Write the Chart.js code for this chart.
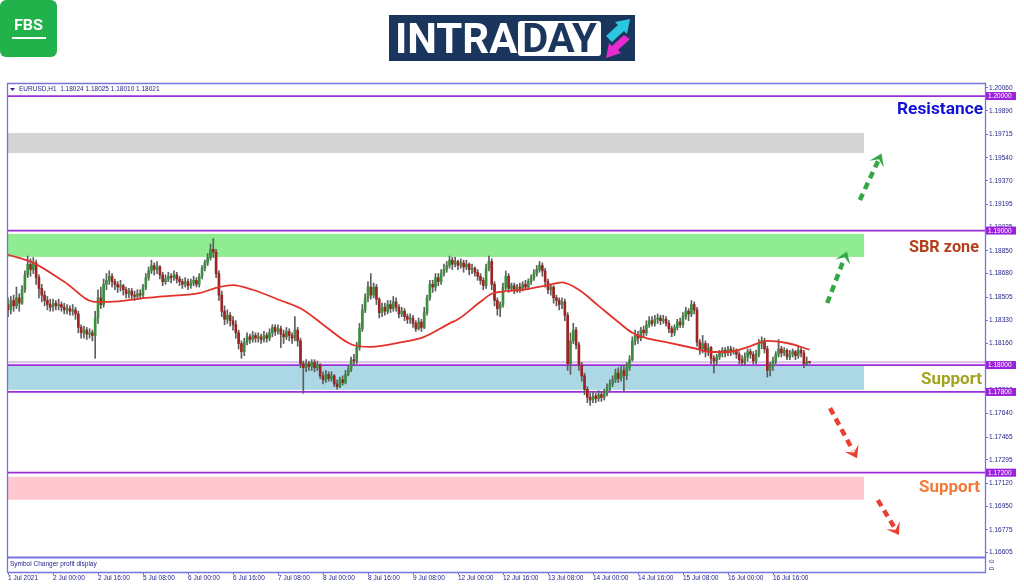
<!DOCTYPE html>
<html>
<head>
<meta charset="utf-8">
<script src="https://cdn.jsdelivr.net/npm/chart.js@4.4.1/dist/chart.umd.min.js"></script>
<style>
html,body{margin:0;padding:0;background:#fff;width:1024px;height:587px;overflow:hidden;}
#wrap{position:relative;width:1024px;height:587px;}
#c{position:absolute;left:0;top:0;}
#fbs{position:absolute;left:0;top:0;width:57px;height:57px;background:#22b24c;border-radius:6px;}
#fbs span{position:absolute;left:0;top:17px;width:57px;text-align:center;color:#fff;font:bold 14px Roboto,sans-serif;line-height:16px;transform:scaleX(1.15);}
#fbs i{position:absolute;left:12px;top:37px;width:34px;height:2px;background:#fff;}
#intra{position:absolute;left:389px;top:15px;width:246px;height:46px;background:#1b365d;}
#intra .t1{position:absolute;left:6px;top:3px;color:#fff;font:bold 42px Roboto,sans-serif;line-height:1;white-space:nowrap;}
#intra .t2{position:absolute;left:129px;top:6px;width:83px;height:35px;background:#fff;border-radius:3px;color:#1b365d;font:bold 40px Roboto,sans-serif;line-height:35px;text-align:center;}
#intra svg{position:absolute;left:214px;top:2px;}
</style>
</head>
<body>
<div id="wrap">
<canvas id="c" width="1024" height="587"></canvas>
<div id="fbs"><span>FBS</span><i></i></div>
<div id="intra"><span class="t1">INTRA</span><span class="t2">DAY</span>
<svg width="30" height="43" viewBox="0 0 30 43">
<polygon points="3,19 15,8 12,5 27,2 24,17 21,14 9,25" fill="#2cc6e3"/>
<polygon points="27,22 15,33 18,36 3,41 6,26 9,29 21,18" fill="#e52bd0"/>
</svg>
</div>
</div>
<script>
// ---- DATA ----
const xTickIdx = [0,16,32,48,64,80,96,112,128,144,160,176,192,208,224,240,256,272];
const xTickLabels = ['1 Jul 2021','2 Jul 00:00','2 Jul 16:00','5 Jul 08:00','6 Jul 00:00','6 Jul 16:00','7 Jul 08:00','8 Jul 00:00','8 Jul 16:00','9 Jul 08:00','12 Jul 00:00','12 Jul 16:00','13 Jul 08:00','14 Jul 00:00','14 Jul 16:00','15 Jul 08:00','16 Jul 00:00','16 Jul 16:00'];
const yTickVals = [1.20060,1.19890,1.19715,1.19540,1.19370,1.19195,1.19025,1.18850,1.18680,1.18505,1.18330,1.18160,1.17985,1.17810,1.17640,1.17465,1.17295,1.17120,1.16950,1.16775,1.16605];
const levelLines = [1.20000,1.19000,1.18000,1.17800,1.17200];
const zoneTop    = [1.19725,1.18975,1.17994,1.17170];
const zoneBottom = [1.19576,1.18804,1.17816,1.16999];
const labelTexts = ['Resistance','SBR zone','Support','Support'];
const labelPrices = [1.19866,1.18840,1.17859,1.17056];

const openP = [
1.1845,1.1841,1.1848,1.1844,1.1850,1.1846,1.1856,1.1867,1.1875,1.1871,
1.1876,1.1865,1.1857,1.1852,1.1848,1.1845,1.1843,1.1846,1.1844,1.1845,
1.1843,1.1841,1.1842,1.1840,1.1841,1.1838,1.1828,1.1824,1.1826,1.1823,
1.1824,1.1822,1.1835,1.1850,1.1845,1.1860,1.1863,1.1866,1.1862,1.1860,
1.1858,1.1859,1.1856,1.1853,1.1855,1.1852,1.1851,1.1853,1.1852,1.1858,
1.1865,1.1870,1.1874,1.1871,1.1873,1.1867,1.1862,1.1864,1.1866,1.1865,
1.1867,1.1864,1.1862,1.1860,1.1862,1.1859,1.1861,1.1863,1.1860,1.1866,
1.1872,1.1876,1.1880,1.1886,1.1884,1.1868,1.1852,1.1840,1.1834,1.1837,
1.1833,1.1830,1.1824,1.1816,1.1810,1.1817,1.1821,1.1819,1.1822,1.1820,
1.1821,1.1819,1.1822,1.1820,1.1824,1.1828,1.1825,1.1827,1.1823,1.1821,
1.1825,1.1822,1.1820,1.1826,1.1818,1.1801,1.1798,1.1801,1.1799,1.1802,
1.1798,1.1800,1.1792,1.1789,1.1793,1.1790,1.1792,1.1786,1.1784,1.1789,
1.1787,1.1793,1.1797,1.1804,1.1803,1.1813,1.1827,1.1841,1.1850,1.1858,
1.1852,1.1858,1.1849,1.1839,1.1843,1.1840,1.1845,1.1842,1.1847,1.1843,
1.1838,1.1840,1.1836,1.1834,1.1835,1.1831,1.1827,1.1832,1.1828,1.1839,
1.1850,1.1860,1.1858,1.1865,1.1862,1.1868,1.1871,1.1874,1.1878,1.1875,
1.1877,1.1874,1.1876,1.1873,1.1875,1.1871,1.1872,1.1869,1.1866,1.1863,
1.1859,1.1872,1.1877,1.1860,1.1848,1.1842,1.1845,1.1858,1.1866,1.1857,
1.1859,1.1856,1.1858,1.1857,1.1860,1.1858,1.1862,1.1865,1.1868,1.1871,
1.1874,1.1870,1.1862,1.1856,1.1858,1.1850,1.1848,1.1845,1.1847,1.1837,
1.1801,1.1818,1.1826,1.1815,1.1800,1.1792,1.1782,1.1776,1.1774,1.1777,
1.1775,1.1778,1.1776,1.1779,1.1783,1.1786,1.1789,1.1794,1.1790,1.1796,
1.1792,1.1798,1.1804,1.1818,1.1822,1.1820,1.1826,1.1824,1.1830,1.1833,
1.1831,1.1834,1.1835,1.1833,1.1834,1.1831,1.1827,1.1824,1.1828,1.1832,
1.1830,1.1836,1.1840,1.1838,1.1845,1.1841,1.1817,1.1812,1.1816,1.1810,
1.1813,1.1805,1.1803,1.1806,1.1809,1.1811,1.1809,1.1812,1.1810,1.1811,
1.1808,1.1804,1.1802,1.1806,1.1810,1.1808,1.1803,1.1808,1.1816,1.1818,
1.1812,1.1796,1.1799,1.1803,1.1808,1.1812,1.1809,1.1811,1.1806,1.1808,
1.1810,1.1807,1.1811,1.1809,1.1801,1.18024];
const highP = [
1.1850,1.1851,1.1852,1.1858,1.1853,1.1859,1.1870,1.1881,1.1879,1.1880,
1.1878,1.1867,1.1860,1.1855,1.1851,1.1849,1.1849,1.1848,1.1849,1.1847,
1.1846,1.1845,1.1844,1.1845,1.1843,1.1840,1.1830,1.1829,1.1828,1.1827,
1.1826,1.1840,1.1856,1.1858,1.1864,1.1868,1.1870,1.1868,1.1864,1.1862,
1.1863,1.1860,1.1858,1.1857,1.1857,1.1855,1.1856,1.1856,1.1860,1.1868,
1.1873,1.1878,1.1876,1.1877,1.1874,1.1869,1.1867,1.1869,1.1868,1.1870,
1.1869,1.1866,1.1864,1.1865,1.1864,1.1864,1.1866,1.1865,1.1868,1.1874,
1.1878,1.1883,1.1890,1.1894,1.1886,1.1870,1.1855,1.1844,1.1841,1.1839,
1.1836,1.1833,1.1826,1.1818,1.1820,1.1824,1.1823,1.1825,1.1824,1.1824,
1.1823,1.1825,1.1824,1.1827,1.1830,1.1830,1.1830,1.1829,1.1826,1.1828,
1.1827,1.1824,1.1836,1.1828,1.1820,1.1803,1.1804,1.1803,1.1804,1.1804,
1.1803,1.1801,1.1795,1.1796,1.1795,1.1795,1.1793,1.1789,1.1791,1.1792,
1.1796,1.1799,1.1806,1.1808,1.1817,1.1831,1.1845,1.1853,1.1862,1.1868,
1.1861,1.1860,1.1850,1.1846,1.1846,1.1848,1.1848,1.1851,1.1850,1.1845,
1.1843,1.1842,1.1838,1.1838,1.1837,1.1833,1.1835,1.1834,1.1843,1.1852,
1.1863,1.1863,1.1868,1.1868,1.1871,1.1875,1.1877,1.1881,1.1880,1.1880,
1.1878,1.1879,1.1878,1.1878,1.1876,1.1875,1.1873,1.1871,1.1868,1.1865,
1.1875,1.1881,1.1879,1.1862,1.1850,1.1847,1.1861,1.1870,1.1868,1.1861,
1.1861,1.1860,1.1861,1.1862,1.1863,1.1864,1.1867,1.1871,1.1874,1.1877,
1.1876,1.1872,1.1864,1.1860,1.1859,1.1852,1.1850,1.1850,1.1849,1.1839,
1.1824,1.1831,1.1828,1.1817,1.1802,1.1794,1.1784,1.1779,1.1780,1.1779,
1.1781,1.1780,1.1782,1.1786,1.1789,1.1792,1.1797,1.1798,1.1799,1.1800,
1.1802,1.1807,1.1821,1.1826,1.1825,1.1828,1.1829,1.1833,1.1836,1.1836,
1.1837,1.1838,1.1837,1.1837,1.1836,1.1833,1.1829,1.1830,1.1834,1.1835,
1.1839,1.1843,1.1842,1.1848,1.1847,1.1843,1.1819,1.1822,1.1818,1.1816,
1.1814,1.1807,1.1808,1.1811,1.1813,1.1813,1.1814,1.1814,1.1813,1.1812,
1.1810,1.1807,1.1809,1.1812,1.1812,1.1810,1.1811,1.1819,1.1821,1.1820,
1.1814,1.1802,1.1806,1.1810,1.1819,1.1814,1.1813,1.1812,1.1811,1.1812,
1.1811,1.1814,1.1813,1.1811,1.1806,1.18025];
const lowP = [
1.1836,1.1838,1.1840,1.1842,1.1840,1.1845,1.1854,1.1865,1.1866,1.1868,
1.1860,1.1850,1.1847,1.1844,1.1841,1.1840,1.1840,1.1841,1.1841,1.1840,
1.1838,1.1838,1.1837,1.1837,1.1834,1.1824,1.1820,1.1820,1.1819,1.1820,
1.1818,1.1805,1.1831,1.1842,1.1843,1.1856,1.1860,1.1858,1.1856,1.1854,
1.1855,1.1852,1.1850,1.1850,1.1849,1.1848,1.1849,1.1849,1.1850,1.1856,
1.1863,1.1868,1.1867,1.1868,1.1864,1.1859,1.1860,1.1862,1.1861,1.1863,
1.1861,1.1859,1.1857,1.1858,1.1856,1.1857,1.1859,1.1858,1.1858,1.1864,
1.1870,1.1874,1.1878,1.1880,1.1865,1.1848,1.1836,1.1830,1.1831,1.1829,
1.1826,1.1820,1.1812,1.1805,1.1807,1.1815,1.1816,1.1817,1.1817,1.1817,
1.1816,1.1817,1.1817,1.1818,1.1821,1.1822,1.1823,1.1813,1.1816,1.1819,
1.1818,1.1816,1.1818,1.1814,1.1798,1.1779,1.1795,1.1796,1.1796,1.1795,
1.1796,1.1790,1.1786,1.1787,1.1788,1.1788,1.1784,1.1782,1.1783,1.1785,
1.1786,1.1792,1.1795,1.1800,1.1801,1.1811,1.1825,1.1839,1.1847,1.1849,
1.1850,1.1845,1.1835,1.1836,1.1837,1.1838,1.1839,1.1840,1.1840,1.1835,
1.1836,1.1833,1.1831,1.1831,1.1828,1.1825,1.1826,1.1825,1.1827,1.1837,
1.1848,1.1854,1.1855,1.1859,1.1860,1.1866,1.1869,1.1872,1.1871,1.1873,
1.1871,1.1872,1.1869,1.1871,1.1867,1.1868,1.1866,1.1863,1.1860,1.1856,
1.1857,1.1870,1.1856,1.1844,1.1837,1.1836,1.1843,1.1856,1.1854,1.1855,
1.1853,1.1854,1.1854,1.1855,1.1856,1.1856,1.1860,1.1863,1.1866,1.1869,
1.1866,1.1858,1.1853,1.1852,1.1846,1.1844,1.1841,1.1842,1.1833,1.1796,
1.1793,1.1816,1.1812,1.1796,1.1788,1.1778,1.1772,1.1770,1.1772,1.1772,
1.1773,1.1773,1.1774,1.1777,1.1781,1.1784,1.1787,1.1787,1.1788,1.1780,
1.1789,1.1796,1.1803,1.1815,1.1816,1.1818,1.1821,1.1822,1.1828,1.1829,
1.1829,1.1831,1.1830,1.1831,1.1829,1.1824,1.1821,1.1822,1.1826,1.1828,
1.1828,1.1834,1.1833,1.1836,1.1838,1.1814,1.1808,1.1809,1.1806,1.1807,
1.1801,1.1794,1.1800,1.1804,1.1806,1.1806,1.1807,1.1807,1.1808,1.1805,
1.1801,1.1800,1.1800,1.1803,1.1805,1.1801,1.1801,1.1806,1.1812,1.1809,
1.1791,1.1792,1.1796,1.1801,1.1806,1.1806,1.1807,1.1804,1.1804,1.1806,
1.1804,1.1805,1.1806,1.1798,1.1800,1.18010];
const closeP = [
1.1841,1.1848,1.1844,1.1850,1.1846,1.1856,1.1867,1.1875,1.1871,1.1876,
1.1865,1.1857,1.1852,1.1848,1.1845,1.1843,1.1846,1.1844,1.1845,1.1843,
1.1841,1.1842,1.1840,1.1841,1.1838,1.1828,1.1824,1.1826,1.1823,1.1824,
1.1822,1.1835,1.1850,1.1845,1.1860,1.1863,1.1866,1.1862,1.1860,1.1858,
1.1859,1.1856,1.1853,1.1855,1.1852,1.1851,1.1853,1.1852,1.1858,1.1865,
1.1870,1.1874,1.1871,1.1873,1.1867,1.1862,1.1864,1.1866,1.1865,1.1867,
1.1864,1.1862,1.1860,1.1862,1.1859,1.1861,1.1863,1.1860,1.1866,1.1872,
1.1876,1.1880,1.1886,1.1884,1.1868,1.1852,1.1840,1.1834,1.1837,1.1833,
1.1830,1.1824,1.1816,1.1810,1.1817,1.1821,1.1819,1.1822,1.1820,1.1821,
1.1819,1.1822,1.1820,1.1824,1.1828,1.1825,1.1827,1.1823,1.1821,1.1825,
1.1822,1.1820,1.1826,1.1818,1.1801,1.1798,1.1801,1.1799,1.1802,1.1798,
1.1800,1.1792,1.1789,1.1793,1.1790,1.1792,1.1786,1.1784,1.1789,1.1787,
1.1793,1.1797,1.1804,1.1803,1.1813,1.1827,1.1841,1.1850,1.1858,1.1852,
1.1858,1.1849,1.1839,1.1843,1.1840,1.1845,1.1842,1.1847,1.1843,1.1838,
1.1840,1.1836,1.1834,1.1835,1.1831,1.1827,1.1832,1.1828,1.1839,1.1850,
1.1860,1.1858,1.1865,1.1862,1.1868,1.1871,1.1874,1.1878,1.1875,1.1877,
1.1874,1.1876,1.1873,1.1875,1.1871,1.1872,1.1869,1.1866,1.1863,1.1859,
1.1872,1.1877,1.1860,1.1848,1.1842,1.1845,1.1858,1.1866,1.1857,1.1859,
1.1856,1.1858,1.1857,1.1860,1.1858,1.1862,1.1865,1.1868,1.1871,1.1874,
1.1870,1.1862,1.1856,1.1858,1.1850,1.1848,1.1845,1.1847,1.1837,1.1801,
1.1818,1.1826,1.1815,1.1800,1.1792,1.1782,1.1776,1.1774,1.1777,1.1775,
1.1778,1.1776,1.1779,1.1783,1.1786,1.1789,1.1794,1.1790,1.1796,1.1792,
1.1798,1.1804,1.1818,1.1822,1.1820,1.1826,1.1824,1.1830,1.1833,1.1831,
1.1834,1.1835,1.1833,1.1834,1.1831,1.1827,1.1824,1.1828,1.1832,1.1830,
1.1836,1.1840,1.1838,1.1845,1.1841,1.1817,1.1812,1.1816,1.1810,1.1813,
1.1805,1.1803,1.1806,1.1809,1.1811,1.1809,1.1812,1.1810,1.1811,1.1808,
1.1804,1.1802,1.1806,1.1810,1.1808,1.1803,1.1808,1.1816,1.1818,1.1812,
1.1796,1.1799,1.1803,1.1808,1.1812,1.1809,1.1811,1.1806,1.1808,1.1810,
1.1807,1.1811,1.1809,1.1801,1.18024,1.18021];
const maIdx = [0,9,20,31,36,49,55,68,75,80,87,97,105,113,122,129,140,148,157,160,168,172,183,192,197,203,210,217,222,227,234,244,250,256,263,270,277,285];
const maVal = [1.1882,1.1876,1.1862,1.1847,1.1847,1.1850,1.1851,1.18535,1.1858,1.18595,1.1856,1.1848,1.1841,1.18285,1.18155,1.18135,1.1817,1.1821,1.1831,1.1834,1.1847,1.1853,1.1856,1.18595,1.18615,1.1856,1.1844,1.1832,1.1824,1.1820,1.1817,1.18125,1.18097,1.18097,1.18134,1.1818,1.18164,1.18115];

// ---- drawing ----
const UP = '#3b8e3e', DOWN = '#9c2424', WICK = '#5e5e5e';
const FRAME = '#7474dc', AXT = '#24248a', PURPLE = '#9a2fd8';
const FONT_S = '6.5px "Liberation Sans", Arial, sans-serif';
const nBars = closeP.length;
const idx = closeP.map((_, i) => i);
const wickData = idx.map(i => ({x: i, y: [lowP[i], highP[i]]}));
const bodyData = idx.map(i => ({x: i, y: [Math.min(openP[i], closeP[i]), Math.max(openP[i], closeP[i])]}));
const bodyColors = idx.map(i => closeP[i] >= openP[i] ? UP : DOWN);
const zoneEndBar = 304.4;

function fitText(ctx, str, xRight, yBase, width, color) {
  ctx.save();
  ctx.font = 'bold 16px Roboto, "DejaVu Sans", sans-serif';
  const w = ctx.measureText(str).width;
  ctx.translate(xRight - width, yBase);
  ctx.scale(width / w, 1);
  ctx.fillStyle = color; ctx.textAlign = 'left'; ctx.textBaseline = 'alphabetic';
  ctx.fillText(str, 0, 0);
  ctx.restore();
}
function dashedArrow(ctx, x0, y0, x1, y1, color) {
  const ang = Math.atan2(y1 - y0, x1 - x0);
  const head = 14;
  const xe = x1 - Math.cos(ang) * head * 0.6, ye = y1 - Math.sin(ang) * head * 0.6;
  ctx.save();
  ctx.strokeStyle = color; ctx.lineWidth = 4.5; ctx.setLineDash([7, 5]); ctx.lineCap = 'butt';
  ctx.beginPath(); ctx.moveTo(x0, y0); ctx.lineTo(xe, ye); ctx.stroke();
  ctx.setLineDash([]);
  ctx.fillStyle = color;
  ctx.beginPath();
  ctx.moveTo(x1, y1);
  ctx.lineTo(x1 - head * Math.cos(ang - 0.6), y1 - head * Math.sin(ang - 0.6));
  ctx.lineTo(x1 - head * 0.45 * Math.cos(ang), y1 - head * 0.45 * Math.sin(ang));
  ctx.lineTo(x1 - head * Math.cos(ang + 0.6), y1 - head * Math.sin(ang + 0.6));
  ctx.closePath(); ctx.fill();
  ctx.restore();
}

const overlay = {
  id: 'overlay',
  beforeDatasetsDraw(chart) {
    const {ctx, chartArea: a, scales: {x, y}} = chart;
    ctx.save();
    const zoneColors = ['#d4d4d4', '#90ec90', '#acd8e6', '#ffc8d1'];
    const zx0 = a.left + 1, zx1 = x.getPixelForValue(zoneEndBar);
    zoneTop.forEach((t, k) => {
      const y0 = y.getPixelForValue(t), y1 = y.getPixelForValue(zoneBottom[k]);
      ctx.fillStyle = zoneColors[k];
      ctx.fillRect(zx0, y0, zx1 - zx0, y1 - y0);
    });
    // bid line at last close
    const by = y.getPixelForValue(closeP[nBars - 1]);
    ctx.strokeStyle = '#dbbde6'; ctx.lineWidth = 2;
    ctx.beginPath(); ctx.moveTo(a.left, by); ctx.lineTo(a.right, by); ctx.stroke();
    ctx.strokeStyle = PURPLE; ctx.lineWidth = 1.7;
    levelLines.forEach(v => {
      const py = y.getPixelForValue(v);
      ctx.beginPath(); ctx.moveTo(a.left, py); ctx.lineTo(a.right, py); ctx.stroke();
    });
    ctx.restore();
  },
  afterDraw(chart) {
    const {ctx, chartArea: a, scales: {x, y}} = chart;
    ctx.save();
    // frame
    ctx.strokeStyle = FRAME; ctx.lineWidth = 1.3;
    ctx.beginPath();
    ctx.moveTo(a.left + 0.5, a.top); ctx.lineTo(a.left + 0.5, a.bottom + 15);
    ctx.moveTo(a.left, a.top + 0.5); ctx.lineTo(a.right + 1, a.top + 0.5);
    ctx.moveTo(a.left, a.bottom + 15.5); ctx.lineTo(a.right + 1, a.bottom + 15.5);
    ctx.moveTo(a.right + 0.5, a.top); ctx.lineTo(a.right + 0.5, a.bottom + 16);
    ctx.stroke();
    ctx.lineWidth = 2;
    ctx.beginPath(); ctx.moveTo(a.left, a.bottom + 0.5); ctx.lineTo(a.right + 1, a.bottom + 0.5); ctx.stroke();
    // x tick marks under sub-window
    ctx.lineWidth = 1;
    ctx.beginPath();
    xTickIdx.forEach(v => { const px = Math.round(x.getPixelForValue(v)) + 0.5; ctx.moveTo(px, a.bottom + 15); ctx.lineTo(px, a.bottom + 18); });
    ctx.stroke();
    // header
    ctx.fillStyle = AXT;
    ctx.beginPath(); ctx.moveTo(a.left + 3, a.top + 5); ctx.lineTo(a.left + 8, a.top + 5); ctx.lineTo(a.left + 5.5, a.top + 8); ctx.closePath(); ctx.fill();
    ctx.font = FONT_S; ctx.textBaseline = 'middle'; ctx.textAlign = 'left';
    const L = nBars - 1;
    ctx.fillText('EURUSD,H1  ' + [openP[L], highP[L], lowP[L], closeP[L]].map(v => v.toFixed(5)).join(' '), a.left + 12, a.top + 6.5);
    ctx.fillText('Symbol Changer profit display', a.left + 3, a.bottom + 7.5);
    ctx.save();
    ctx.translate(a.right + 6, a.bottom + 8); ctx.rotate(Math.PI / 2);
    ctx.textAlign = 'center'; ctx.fillText('0  0', 0, 0);
    ctx.restore();
    // price boxes on the axis
    levelLines.forEach(v => {
      const py = y.getPixelForValue(v);
      ctx.fillStyle = '#9b22dc';
      ctx.fillRect(a.right + 1, py - 4, 30, 8);
      ctx.fillStyle = '#ffffff'; ctx.textAlign = 'left';
      ctx.fillText(v.toFixed(5), a.right + 3, py + 0.5);
    });
    // arrows
    const G = '#35a846', R = '#e8402e';
    dashedArrow(ctx, x.getPixelForValue(291.3), y.getPixelForValue(1.18461), x.getPixelForValue(298.3), y.getPixelForValue(1.18845), G);
    dashedArrow(ctx, x.getPixelForValue(302.9), y.getPixelForValue(1.19227), x.getPixelForValue(310.6), y.getPixelForValue(1.19572), G);
    dashedArrow(ctx, x.getPixelForValue(292.3), y.getPixelForValue(1.17680), x.getPixelForValue(301.9), y.getPixelForValue(1.17308), R);
    dashedArrow(ctx, x.getPixelForValue(309.3), y.getPixelForValue(1.16996), x.getPixelForValue(316.8), y.getPixelForValue(1.16736), R);
    // zone labels
    const labelColors = ['#1212d6', '#b2401a', '#a3a320', '#f27a38'];
    const labelWidths = [86, 70, 61, 61];
    const labelRight = [983, 979, 982, 980];
    labelTexts.forEach((t, k) => fitText(ctx, t, labelRight[k], y.getPixelForValue(labelPrices[k]), labelWidths[k], labelColors[k]));
    ctx.restore();
  }
};

new Chart(document.getElementById('c'), {
  type: 'bar',
  data: {
    datasets: [
      {type: 'line', label: 'MA', data: maIdx.map((v, k) => ({x: v, y: maVal[k]})), borderColor: '#e3322b', borderWidth: 1.8, pointRadius: 0, tension: 0.4, cubicInterpolationMode: 'monotone', order: 0},
      {label: 'body', data: bodyData, backgroundColor: bodyColors, barThickness: 2, grouped: false, minBarLength: 1, borderWidth: 0, order: 1},
      {label: 'wick', data: wickData, backgroundColor: WICK, barThickness: 1, grouped: false, borderWidth: 0, order: 2}
    ]
  },
  options: {
    responsive: false, animation: false, devicePixelRatio: 1,
    layout: {padding: {left: 7, top: 83, right: 0, bottom: 0}},
    plugins: {legend: {display: false}, tooltip: {enabled: false}},
    scales: {
      x: {
        type: 'linear', min: -0.36, max: 347.4, offset: false, position: 'bottom',
        grid: {display: true, drawOnChartArea: false, drawTicks: true, tickLength: 17, color: 'rgba(0,0,0,0)'},
        border: {display: false},
        ticks: {padding: 0, align: 'start', autoSkip: false, maxRotation: 0, font: {family: '"Liberation Sans", Arial, sans-serif', size: 6.5}, color: AXT, callback: (v, i) => xTickLabels[i]},
        afterBuildTicks: s => { s.ticks = xTickIdx.map(v => ({value: v})); },
        afterFit: s => { s.height = 30; }
      },
      y: {
        type: 'linear', position: 'right', min: 1.16573, max: 1.20097,
        grid: {drawOnChartArea: false, drawTicks: true, tickLength: 3, color: FRAME},
        border: {display: true, color: FRAME},
        ticks: {padding: 1, autoSkip: false, font: {family: '"Liberation Sans", Arial, sans-serif', size: 6.5}, color: AXT, callback: v => Number(v).toFixed(5)},
        afterBuildTicks: s => { s.ticks = yTickVals.map(v => ({value: v})); },
        afterFit: s => { s.width = 39; }
      }
    }
  },
  plugins: [overlay]
});
</script>
</body>
</html>
